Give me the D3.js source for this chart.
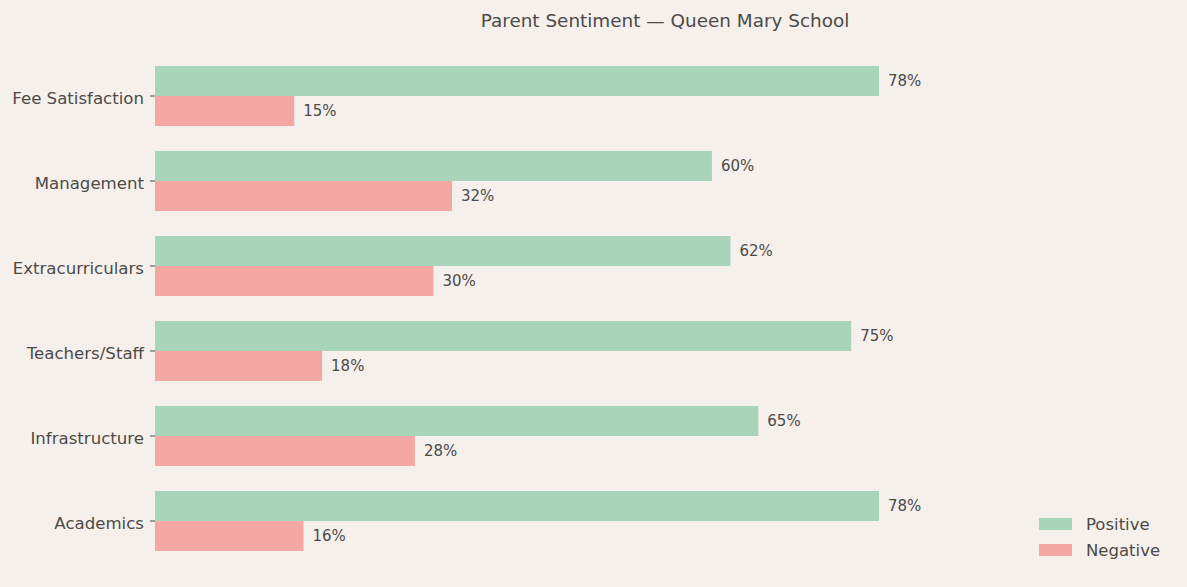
<!DOCTYPE html>
<html>
<head>
<meta charset="utf-8">
<script src="https://cdn.jsdelivr.net/npm/d3@7"></script>
<style>
  body { margin: 0; background: #f5f0ec; }
  svg { display: block; font-family: 'DejaVu Sans', sans-serif; }
</style>
</head>
<body>
<div id="chart"></div>
<script>
/* chart data */
const categories = ['Fee Satisfaction', 'Management', 'Extracurriculars', 'Teachers/Staff', 'Infrastructure', 'Academics'];
const positive = [78, 60, 62, 75, 65, 78];
const negative = [15, 32, 30, 18, 28, 16];
const seriesNames = ['Positive', 'Negative'];
const seriesColors = ['#a8d4b9', '#f5a7a3'];

const width = 1187;
const height = 587;
const textColor = '#4d4a48';

const svg = d3.select('#chart')
  .append('svg')
  .attr('width', width)
  .attr('height', height);

svg.append('rect')
  .attr('width', width)
  .attr('height', height)
  .attr('fill', '#f5f0ec');

/* x scale - 0 sits on the axis line at 155px */
const x = d3.scaleLinear()
  .domain([0, 100])
  .range([155, 155 + 928.2]);

/* one band per category, two bars per band */
const y0 = d3.scaleBand()
  .domain(categories)
  .range([53.5, 563.5])
  .paddingInner(25 / 85)
  .paddingOuter(12.5 / 85);

const y1 = d3.scaleBand()
  .domain(seriesNames)
  .range([0, y0.bandwidth()]);

const rows = categories.map(function (c, i) {
  return { cat: c, values: [positive[i], negative[i]] };
});

const groups = svg.selectAll('g.row')
  .data(rows)
  .enter()
  .append('g')
  .attr('class', 'row')
  .attr('transform', function (d) { return 'translate(0,' + y0(d.cat) + ')'; });

groups.selectAll('rect')
  .data(function (d) { return d.values.map(function (v, j) { return { name: seriesNames[j], value: v, color: seriesColors[j] }; }); })
  .enter()
  .append('rect')
  .attr('x', x(0))
  .attr('y', function (d) { return y1(d.name); })
  .attr('width', function (d) { return x(d.value) - x(0); })
  .attr('height', y1.bandwidth())
  .attr('fill', function (d) { return d.color; });

/* value labels at the bar ends */
groups.selectAll('text.val')
  .data(function (d) { return d.values.map(function (v, j) { return { name: seriesNames[j], value: v }; }); })
  .enter()
  .append('text')
  .attr('class', 'val')
  .attr('x', function (d) { return x(d.value) + 9; })
  .attr('y', function (d) { return y1(d.name) + y1.bandwidth() / 2; })
  .attr('dy', '0.35em')
  .attr('fill', textColor)
  .style('font-size', '15px')
  .text(function (d) { return d.value + '%'; });

/* y axis - ticks and labels only, no domain line */
const yAxis = svg.append('g')
  .attr('transform', 'translate(' + x(0) + ',0)')
  .call(d3.axisLeft(y0).tickSize(5).tickPadding(6));
yAxis.select('.domain').remove();
yAxis.selectAll('line').attr('stroke', textColor).attr('stroke-width', 1);
yAxis.selectAll('text')
  .attr('fill', textColor)
  .attr('dy', '0.47em')
  .style('font-size', '16.6px')
  .style('font-family', "'DejaVu Sans', sans-serif");

/* title */
svg.append('text')
  .attr('x', 665)
  .attr('y', 27)
  .attr('text-anchor', 'middle')
  .attr('fill', textColor)
  .style('font-size', '18.4px')
  .text('Parent Sentiment \u2014 Queen Mary School');

/* legend */
const legend = svg.append('g')
  .attr('transform', 'translate(1039,518)');
seriesNames.forEach(function (name, i) {
  legend.append('rect')
    .attr('x', 0)
    .attr('y', i * 26)
    .attr('width', 33)
    .attr('height', 12)
    .attr('fill', seriesColors[i]);
  legend.append('text')
    .attr('x', 47)
    .attr('y', i * 26 + 6)
    .attr('dy', '0.37em')
    .attr('fill', textColor)
    .style('font-size', '16.5px')
    .text(name);
});
</script>
</body>
</html>
